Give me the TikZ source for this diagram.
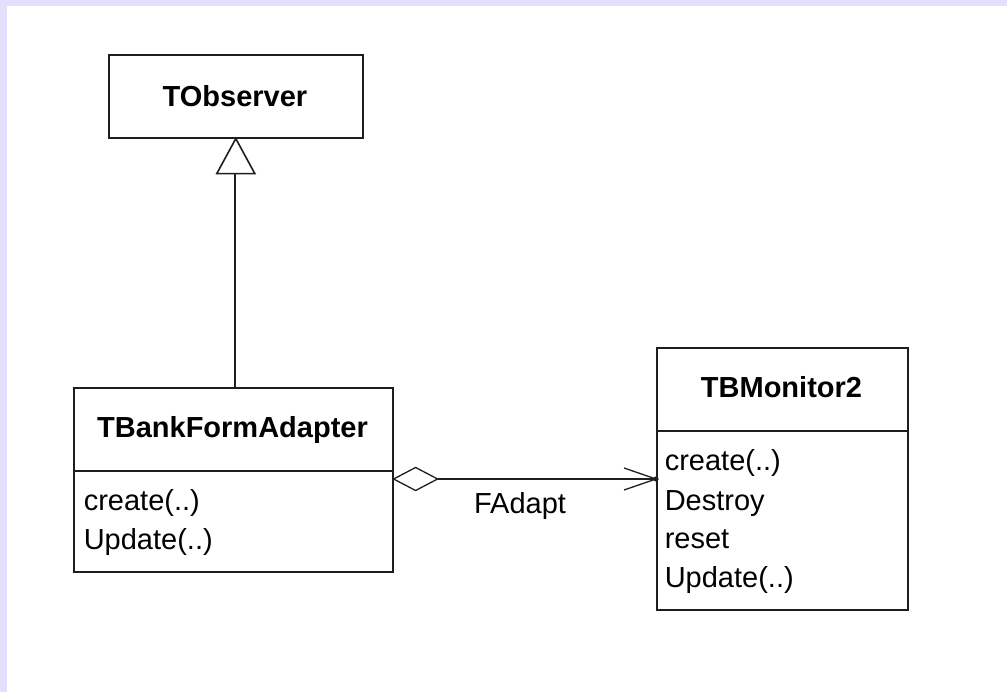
\documentclass[tikz,border=0pt]{standalone}
\usepackage{fontspec}
\setmainfont{Liberation Sans}
\definecolor{lav}{RGB}{226,224,252}
\definecolor{ink}{RGB}{30,30,30}
\begin{document}
\begin{tikzpicture}[x=1pt,y=-1pt, line width=1.6pt, draw=ink,
 cls/.style={draw=ink, line width=1.6pt, anchor=north west, inner sep=0pt},
 ttl/.style={font=\fontsize{29}{34}\selectfont\bfseries, anchor=base, inner sep=0pt},
 itm/.style={font=\fontsize{29}{34}\selectfont, anchor=base west, inner sep=0pt},
 lbl/.style={font=\fontsize{29}{34}\selectfont, anchor=base, inner sep=0pt}]
\fill[lav] (0,0) rectangle (1007,692);
\fill[white] (7,6) rectangle (1007,692);
\useasboundingbox (0,0) rectangle (1007,692);

% class boxes
\node[cls, minimum width=254pt, minimum height=83pt] (obs) at (108,54) {};
\node[cls, minimum width=319pt, minimum height=184pt] (adapter) at (73,387) {};
\node[cls, minimum width=251pt, minimum height=262pt] (monitor) at (656,347) {};

% dividers
\draw ([yshift=-84pt]adapter.north west) -- ([yshift=-84pt]adapter.north east);
\draw ([yshift=-84pt]monitor.north west) -- ([yshift=-84pt]monitor.north east);

% titles
\node[ttl] (obst) at (235,107) {TObserver};
\node[ttl] (adt) at (232.5,438) {TBankFormAdapter};
\node[ttl] (mont) at (781.5,398) {TBMonitor2};

% operations
\node[itm] (a1) at (83,510) {create(..)};
\node[itm] (a2) at (83,549) {Update(..)};
\node[itm] (m1) at (664,471) {create(..)};
\node[itm] (m2) at (664,510) {Destroy};
\node[itm] (m3) at (664,548) {reset};
\node[itm] (m4) at (664,587) {Update(..)};

% generalization
\coordinate (tribase) at (235,172);
\draw (tribase) -- (tribase |- adapter.north);
\draw[fill=white, line join=miter] (obs.south) -- ++(-19,35) -- ++(38,0) -- cycle;

% aggregation
\coordinate (yagg) at (0,479);
\coordinate (dl) at (adapter.east |- yagg);
\coordinate (dr) at ([xshift=44pt]dl);
\coordinate (tip) at (monitor.west |- yagg);
\draw[fill=white, line width=1.3pt, line join=miter] (dl) -- ++(22,-11.5) -- (dr) -- ++(-22,11.5) -- cycle;
\draw (dr) -- (tip);
\draw[line width=1.3pt] ([xshift=-32pt,yshift=11pt]tip) -- (tip) -- ([xshift=-32pt,yshift=-11pt]tip);
\fill[ink] (tip) circle (2.6pt);
\node[lbl] (fa) at (520,513) {FAdapt};
\end{tikzpicture}
\end{document}
